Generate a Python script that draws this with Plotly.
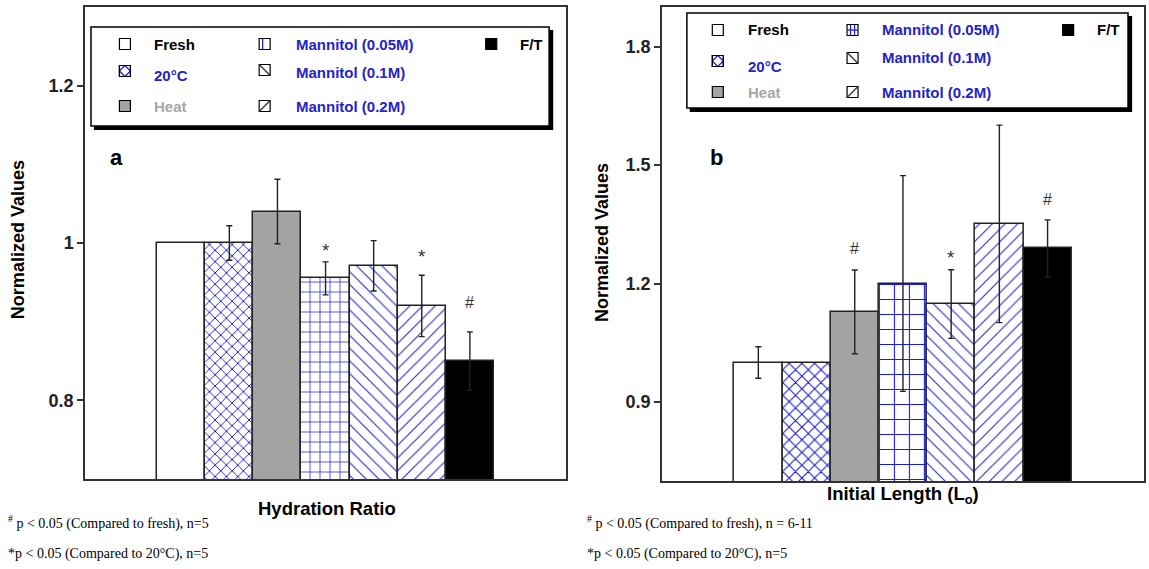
import plotly.graph_objects as go

# ---------------- data ----------------
categories = ["Fresh", "20°C", "Heat", "Mannitol (0.05M)", "Mannitol (0.1M)", "Mannitol (0.2M)", "F/T"]

hydration_values = [1.0, 1.0, 1.04, 0.955, 0.971, 0.92, 0.85]
hydration_errors = [0.0, 0.022, 0.041, 0.021, 0.032, 0.039, 0.037]
hydration_marks = ["", "", "", "*", "", "*", "#"]
hydration_mark_levels = [None, None, None, 0.9965, None, 0.989, 0.925]

length_values = [1.0, 1.0, 1.128, 1.2, 1.148, 1.351, 1.289]
length_errors = [0.04, 0.0, 0.106, 0.273, 0.087, 0.25, 0.072]
length_marks = ["", "", "#", "", "*", "", "#"]
length_mark_levels = [None, None, 1.288, None, 1.278, None, 1.412]

yticks_a = [0.8, 1.0, 1.2]
yticklabels_a = ["0.8", "1", "1.2"]
yticks_b = [0.9, 1.2, 1.5, 1.8]
yticklabels_b = ["0.9", "1.2", "1.5", "1.8"]

# ---------------- styles ----------------
W, H = 1149, 569
ML, MR, MT, MB = 85, 3, 7, 88
PW, PH = W - ML - MR, H - MT - MB

def X(px):
    return (px - ML) / PW

def Y(py):
    return (H - MB - py) / PH

BLUE = "#2323c8"
bar_colors = ["white", "white", "#a3a3a3", "white", "white", "white", "black"]
pat_shapes = ["", "x", "", "+", "\\", "/", ""]
pat_fg = ["black", "#1c1cc4", "black", "#1a1ae6", "#3030c0", "#3030c0", "black"]
pat_solidity = [0, 0.22, 0, 0.14, 0.13, 0.13, 0]
pat_size_a = [8, 8, 8, 10, 9, 9, 8]
pat_size_b = [8, 9, 8, 15, 9, 9, 8]

FONT = "Liberation Sans, Arial, sans-serif"
SERIF = "Liberation Serif, Times New Roman, serif"

fig = go.Figure()

def add_panel(values, errors, sizes, xa, ya):
    for i, c in enumerate(categories):
        pattern = dict(shape=pat_shapes[i])
        if pat_shapes[i]:
            pattern = dict(shape=pat_shapes[i], fgcolor=pat_fg[i], bgcolor=bar_colors[i],
                           size=sizes[i], solidity=pat_solidity[i], fillmode="replace")
        fig.add_trace(go.Bar(
            x=[c], y=[values[i]], xaxis=xa, yaxis=ya, width=1.0,
            marker=dict(color=bar_colors[i], line=dict(color="#222", width=1.5),
                        pattern=pattern),
            error_y=dict(type="data", array=[errors[i]], visible=errors[i] > 0, color="#222",
                         thickness=1.4, width=3),
            showlegend=False, hoverinfo="skip"))

add_panel(hydration_values, hydration_errors, pat_size_a, "x", "y")
add_panel(length_values, length_errors, pat_size_b, "x2", "y2")

axis_common = dict(showline=True, mirror=True, linecolor="#333", linewidth=1.5,
                   showgrid=False, zeroline=False)
xa_dom = [0, X(567)]
xb_dom = [X(663), 1]

fig.update_layout(
    width=W, height=H, margin=dict(l=ML, r=MR, t=MT, b=MB),
    plot_bgcolor="white", paper_bgcolor="white", bargap=0, barmode="overlay",
    xaxis=dict(domain=xa_dom, range=[-2, 8], showticklabels=False, ticks="",
               anchor="y", categoryorder="array", categoryarray=categories, **axis_common),
    yaxis=dict(domain=[Y(479), 1], range=[0.7, 1.3], tickvals=yticks_a, ticktext=yticklabels_a,
               ticks="outside", ticklen=6, tickwidth=1.5, tickcolor="#333",
               tickfont=dict(family=FONT, size=18, color="#222", weight="bold"),
               anchor="x", **axis_common),
    xaxis2=dict(domain=xb_dom, range=[-2, 8], showticklabels=False, ticks="",
                anchor="y2", categoryorder="array", categoryarray=categories, **axis_common),
    yaxis2=dict(domain=[0, 1], range=[0.7, 1.9], tickvals=yticks_b, ticktext=yticklabels_b,
                ticks="outside", ticklen=6, tickwidth=1.5, tickcolor="#333",
                tickfont=dict(family=FONT, size=18, color="#222", weight="bold"),
                anchor="x2", **axis_common),
    yaxis3=dict(overlaying="y", anchor="x", side="right", range=[0.7, 1.3], tickvals=yticks_a,
                ticks="inside", ticklen=8, tickwidth=1.5, tickcolor="#333",
                showticklabels=False, showline=False, showgrid=False, zeroline=False),
    yaxis4=dict(overlaying="y2", anchor="x2", side="right", range=[0.7, 1.9], tickvals=yticks_b,
                ticks="inside", ticklen=8, tickwidth=1.5, tickcolor="#333",
                showticklabels=False, showline=False, showgrid=False, zeroline=False),
)

shapes = []
annotations = []

def text(px, py, s, size=15, color="black", bold=True, family=FONT, xanchor="left",
         yanchor="middle", angle=0):
    annotations.append(dict(x=X(px), y=Y(py), xref="paper", yref="paper", text=s,
                            showarrow=False, xanchor=xanchor, yanchor=yanchor, textangle=angle,
                            font=dict(family=family, size=size, color=color,
                                      weight="bold" if bold else "normal")))

def rect(x0, y0, x1, y1, fill="white", line="black", lw=1.2):
    shapes.append(dict(type="rect", xref="paper", yref="paper", x0=X(x0), x1=X(x1),
                       y0=Y(y1), y1=Y(y0), fillcolor=fill,
                       line=dict(color=line, width=lw)))

def line(x0, y0, x1, y1, color=BLUE, lw=1.3):
    shapes.append(dict(type="line", xref="paper", yref="paper", x0=X(x0), x1=X(x1),
                       y0=Y(y0), y1=Y(y1), line=dict(color=color, width=lw)))

def icon(kind, cx, cy, variant="a"):
    s = 5.5
    x0, x1, y0, y1 = cx - s, cx + s, cy - s, cy + s
    if kind == 0:
        rect(x0, y0, x1, y1)
    elif kind == 1:
        rect(x0, y0, x1, y1)
        line(cx, y0, x1, cy); line(x1, cy, cx, y1); line(cx, y1, x0, cy); line(x0, cy, cx, y0)
        rect(x0, y0, x1, y1, fill="rgba(0,0,0,0)")
    elif kind == 2:
        rect(x0, y0, x1, y1, fill="#a3a3a3")
    elif kind == 3:
        rect(x0, y0, x1, y1)
        line(x0 + 3.5, y0, x0 + 3.5, y1)
        if variant == "b":
            line(x0, cy, x1, cy)
            line(x1 - 3.5, y0, x1 - 3.5, y1)
    elif kind == 4:
        rect(x0, y0, x1, y1)
        line(x0, y0, x1, y1, color="#333")
    elif kind == 5:
        rect(x0, y0, x1, y1)
        line(x0, y1, x1, y0, color="#333")
    elif kind == 6:
        rect(x0, y0, x1, y1, fill="black")

legend_colors = ["black", BLUE, "#a8a8a8", BLUE, BLUE, BLUE, "black"]
legend_labels = ["Fresh", "20°C", "Heat", "Mannitol (0.05M)", "Mannitol (0.1M)", "Mannitol (0.2M)", "F/T"]

def legend(box, cols, rows_icon, rows_text, variant):
    bx0, by0, bx1, by1 = box
    rect(bx0 + 3.5, by0 + 3.5, bx1 + 3.5, by1 + 3.5, fill="black", line="black")
    rect(bx0, by0, bx1, by1, fill="white", line="black", lw=1.5)
    col_of = [0, 0, 0, 1, 1, 1, 2]
    for i, lab in enumerate(legend_labels):
        ix, tx = cols[col_of[i]]
        icon(i, ix, rows_icon[i], variant)
        text(tx, rows_text[i], lab, size=15, color=legend_colors[i])

legend((91, 27, 550, 126), [(125, 152), (265, 294), (492, 519)],
       [44, 71, 106, 44, 70, 106, 44], [44, 75, 106, 44, 72, 106, 44], "a")
legend((688, 13, 1130, 108), [(719, 747), (854, 882), (1070, 1097)],
       [30, 61, 92, 30, 58, 92, 30], [30, 66, 92, 30, 57, 92, 30], "b")

# significance marks
for xa, ya, marks, levels in [("x", "y", hydration_marks, hydration_mark_levels),
                              ("x2", "y2", length_marks, length_mark_levels)]:
    for c, m, lv in zip(categories, marks, levels):
        if m:
            annotations.append(dict(x=c, y=lv, xref=xa, yref=ya, text=m, showarrow=False,
                                    yanchor="middle", yshift=-5 if m == "*" else 0,
                                    font=dict(family=FONT, size=19 if m == "*" else 16,
                                              color="#333")))

# panel letters
text(117, 157, "a", size=22, xanchor="center")
text(718, 157, "b", size=22, xanchor="center")

# axis titles
text(18, 240, "Normalized Values", size=18, xanchor="center", angle=-90)
text(603, 243, "Normalized Values", size=18, xanchor="center", angle=-90)
text(327, 508, "Hydration Ratio", size=18.5, xanchor="center")
text(905, 495, "Initial Length (L<sub>o</sub>)", size=18.5, xanchor="center")

# footnotes
text(6, 522, "<sup>#</sup> p &lt; 0.05 (Compared to fresh), n=5", size=14, bold=False, family=SERIF)
text(6, 554, "*p &lt; 0.05 (Compared to 20°C), n=5", size=14, bold=False, family=SERIF)
text(586, 522, "<sup>#</sup> p &lt; 0.05 (Compared to fresh), n = 6-11", size=14, bold=False, family=SERIF)
text(586, 554, "*p &lt; 0.05 (Compared to 20°C), n=5", size=14, bold=False, family=SERIF)

fig.update_layout(shapes=shapes, annotations=annotations)
fig.write_html("out.html")
